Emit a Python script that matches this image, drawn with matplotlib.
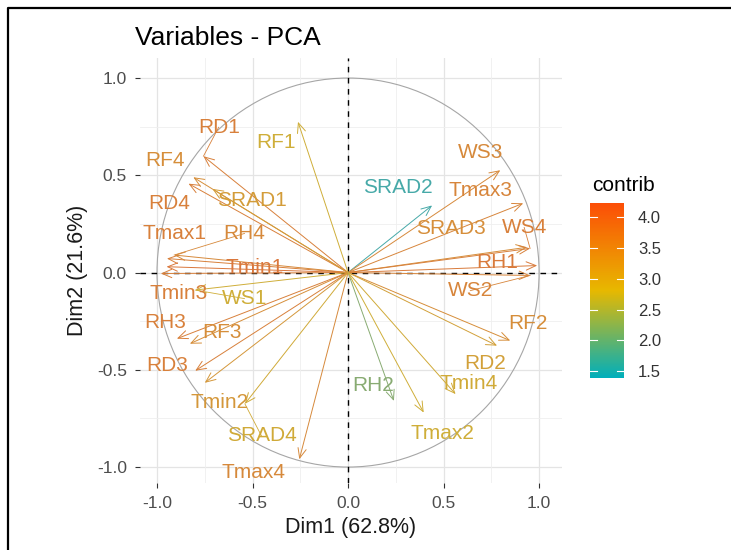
import numpy as np
import matplotlib
matplotlib.use("Agg")
import matplotlib.pyplot as plt
from matplotlib.colors import LinearSegmentedColormap, Normalize
from matplotlib.patches import Circle, FancyArrowPatch
from matplotlib.lines import Line2D
import matplotlib.colorbar as mcolorbar

plt.rcParams["font.family"] = ["Liberation Sans", "DejaVu Sans"]

# variable coordinates on Dim1 / Dim2 and their contribution
names = ["RD1", "RF4", "RD4", "SRAD1", "RF1", "Tmax1", "RH4", "Tmin1",
         "Tmin3", "WS1", "RH3", "RF3", "RD3", "Tmin2", "SRAD4", "Tmax4",
         "SRAD2", "WS3", "Tmax3", "SRAD3", "WS4", "RH1", "WS2",
         "RF2", "RD2", "Tmin4", "RH2", "Tmax2"]
dim1 = [-0.757, -0.810, -0.835, -0.710, -0.262, -0.948, -0.910, -0.950,
        -0.980, -0.800, -0.896, -0.828, -0.800, -0.750, -0.540, -0.255,
        0.440, 0.797, 0.917, 0.937, 0.953, 0.990, 0.953,
        0.849, 0.780, 0.563, 0.240, 0.396]
dim2 = [0.598, 0.490, 0.457, 0.430, 0.775, 0.072, 0.090, 0.030,
        -0.005, -0.090, -0.340, -0.366, -0.505, -0.567, -0.675, -0.960,
        0.345, 0.526, 0.356, 0.130, 0.124, 0.036, -0.015,
        -0.350, -0.376, -0.625, -0.660, -0.720]
contrib = [3.8, 3.5, 3.8, 3.2, 2.8, 3.8, 3.6, 4.0,
           3.8, 2.8, 3.8, 3.5, 3.8, 3.3, 2.9, 3.6,
           1.45, 3.6, 3.7, 3.5, 3.8, 3.9, 3.7,
           3.5, 3.1, 2.9, 2.1, 2.8]

# repelled label positions
label_x = [-0.677, -0.958, -0.938, -0.505, -0.375, -0.906, -0.542, -0.490,
           -0.885, -0.542, -0.958, -0.661, -0.948, -0.672, -0.453, -0.495,
           0.260, 0.693, 0.693, 0.536, 0.922, 0.781, 0.640,
           0.943, 0.719, 0.630, 0.130, 0.495]
label_y = [0.747, 0.577, 0.356, 0.371, 0.670, 0.201, 0.201, 0.026,
           -0.108, -0.134, -0.258, -0.309, -0.479, -0.670, -0.840, -1.030,
           0.438, 0.619, 0.423, 0.227, 0.232, 0.052, -0.093,
           -0.263, -0.469, -0.572, -0.582, -0.830]
# labels pushed far enough to get a connector segment
linked = ["RD1", "SRAD4", "WS2", "WS4", "RH4", "WS1"]

cmap = LinearSegmentedColormap.from_list("contrib", ["#00AFBB", "#E7B800", "#FC4E07"])
norm = Normalize(vmin=1.39, vmax=4.23)


def muted(c):
    # arrows and labels come out softer than the legend bar
    rgb = np.array(c[:3])
    return tuple(0.62 * rgb + 0.38 * np.array([0.66, 0.62, 0.58]))


fig = plt.figure(figsize=(7.31, 5.5), dpi=100)
ax = fig.add_axes([140 / 731, 67 / 550, 422 / 731, 425 / 550])

ax.set_xlim(-1.089, 1.12)
ax.set_ylim(-1.082, 1.103)

# grid like theme_minimal
for v in [-1.0, -0.5, 0.0, 0.5, 1.0]:
    ax.axvline(v, color="#e4e4e4", lw=0.9, zorder=0)
    ax.axhline(v, color="#e4e4e4", lw=0.9, zorder=0)
for v in [-0.75, -0.25, 0.25, 0.75]:
    ax.axvline(v, color="#efefef", lw=0.6, zorder=0)
    ax.axhline(v, color="#efefef", lw=0.6, zorder=0)

ax.add_patch(Circle((0, 0), 1.0, fill=False, ec="#a6a6a6", lw=0.8, zorder=1))
ax.axhline(0, color="black", lw=1.0, ls=(0, (4, 4)), zorder=2)
ax.axvline(0, color="black", lw=1.0, ls=(0, (4, 4)), zorder=2)

for n, x, y, c, lx, ly in zip(names, dim1, dim2, contrib, label_x, label_y):
    col = muted(cmap(norm(c)))
    arr = FancyArrowPatch((0, 0), (x, y), arrowstyle="->,head_length=0.7,head_width=0.3",
                          mutation_scale=10, shrinkA=0, shrinkB=0,
                          color=col, lw=0.7, zorder=3)
    ax.add_patch(arr)
    if n in linked:
        ax.plot([lx, x], [ly, y], color=col, lw=0.6, zorder=3)
    ax.text(lx, ly, n, color=col, fontsize=15, ha="center", va="center", zorder=4)

for s in ax.spines.values():
    s.set_visible(False)
ticks = [-1.0, -0.5, 0.0, 0.5, 1.0]
ax.set_xticks(ticks)
ax.set_yticks(ticks)
ax.set_xticklabels([f"{t:.1f}" for t in ticks])
ax.set_yticklabels([f"{t:.1f}" for t in ticks])
ax.tick_params(axis="both", labelsize=12.5, labelcolor="#4d4d4d", color="#333333",
               length=3.5, width=0.8, pad=6)
ax.set_xlabel("Dim1 (62.8%)", fontsize=15.5, color="#1a1a1a", labelpad=4)
ax.set_ylabel("Dim2 (21.6%)", fontsize=15.5, color="#1a1a1a", labelpad=6)

fig.text(135 / 731, 1 - 38 / 550, "Variables - PCA", fontsize=19, va="center", ha="left")

# colour bar legend
cax = fig.add_axes([590 / 731, 172 / 550, 34 / 731, 175 / 550])
cb = mcolorbar.ColorbarBase(cax, cmap=cmap, norm=norm, orientation="vertical")
cb.outline.set_visible(False)
cb.set_ticks([1.5, 2.0, 2.5, 3.0, 3.5, 4.0])
cb.set_ticklabels(["1.5", "2.0", "2.5", "3.0", "3.5", "4.0"])
cax.tick_params(labelsize=12, labelcolor="#333333", length=0, pad=10)
for t in [1.5, 2.0, 2.5, 3.0, 3.5, 4.0]:
    cax.plot([0, 0.2], [t, t], color="white", lw=0.8, transform=cax.get_yaxis_transform())
    cax.plot([0.8, 1.0], [t, t], color="white", lw=0.8, transform=cax.get_yaxis_transform())
fig.text(592 / 731, 1 - 185 / 550, "contrib", fontsize=15, va="center", ha="left")

# frame on top and left edge
fig.add_artist(Line2D([8 / 731, 8 / 731, 1.0], [0.0, 1 - 8 / 550, 1 - 8 / 550],
                      color="black", lw=1.6, transform=fig.transFigure))

fig.savefig("out.png", dpi=100)
